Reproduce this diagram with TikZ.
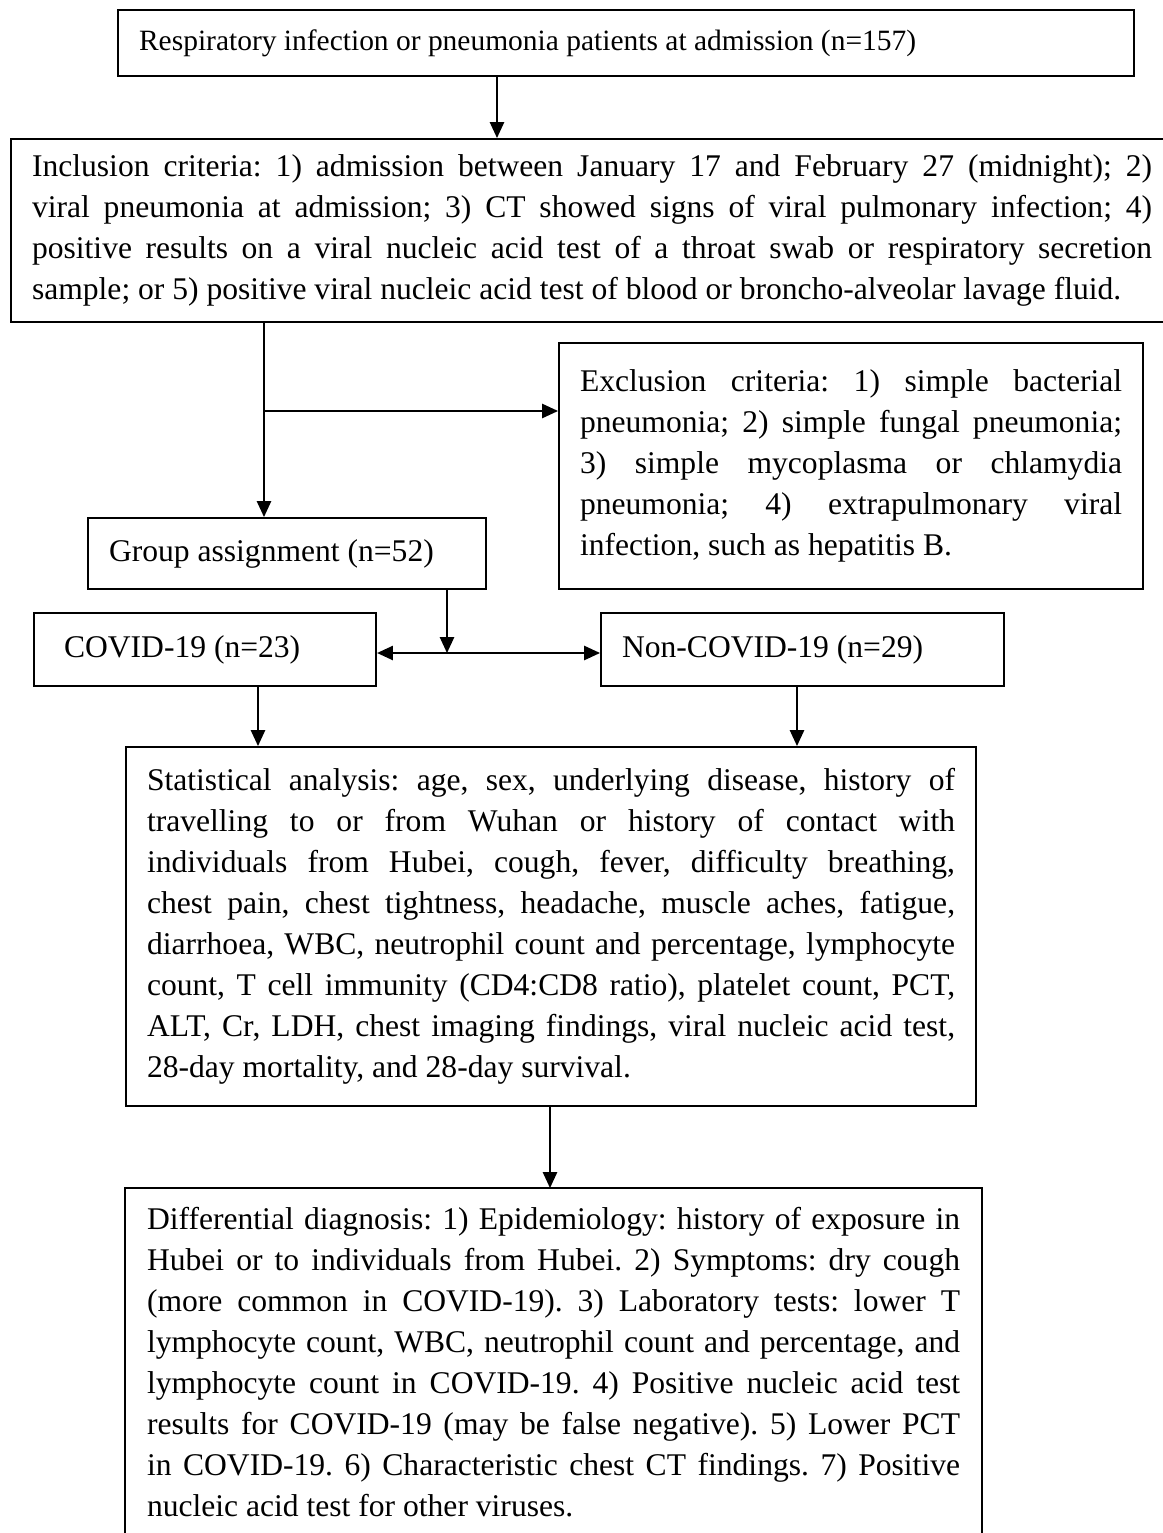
\documentclass[tikz,border=0pt]{standalone}
\usepackage{fontspec}
\setmainfont{Liberation Serif}
\usetikzlibrary{arrows.meta}
\frenchspacing
\newlength{\px}
\setlength{\px}{0.38pt}

\begin{document}
\begin{tikzpicture}[x=0.38pt, y=-0.38pt,
    box/.style={draw, line width=0.8pt, anchor=north west, inner xsep=21\px, inner ysep=0pt,
        align=justify, font=\fontsize{12}{15.6}\selectfont},
    arr/.style={line width=0.6pt, -{Triangle[length=6pt, width=5.4pt]}},
    arrboth/.style={line width=0.6pt, {Triangle[length=6pt, width=5.4pt]}-{Triangle[length=6pt, width=5.4pt]}}]

    \useasboundingbox (0,0) rectangle (1163,1533);

    % Boxes
    \node[box, text width=974\px, minimum height=66\px, font=\fontsize{11.2}{14}\selectfont] (adm) at (117,9)
        {Respiratory infection or pneumonia patients at admission (n=157)};
    \node[box, text width=1120\px, minimum height=183\px] (incl) at (10,138)
        {Inclusion criteria: 1) admission between January 17 and February 27 (midnight); 2)\linebreak
        viral pneumonia at admission; 3) CT showed signs of viral pulmonary infection; 4)\linebreak
        positive results on a viral nucleic acid test of a throat swab or respiratory secretion\linebreak
        sample; or 5) positive viral nucleic acid test of blood or broncho-alveolar lavage fluid.};
    \node[box, text width=542\px, minimum height=246\px] (excl) at (558,342)
        {Exclusion criteria: 1) simple bacterial\linebreak
        pneumonia; 2) simple fungal pneumonia;\linebreak
        3) simple mycoplasma or chlamydia\linebreak
        pneumonia; 4) extrapulmonary viral\linebreak
        infection, such as hepatitis B.};
    \node[box, text width=356\px, minimum height=71\px] (grp) at (87,517)
        {Group assignment (n=52)};
    \node[box, inner xsep=30\px, text width=282\px, minimum height=73\px] (cov) at (33,612)
        {COVID-19 (n=23)};
    \node[box, text width=361\px, minimum height=73\px] (noncov) at (600,612)
        {Non-COVID-19 (n=29)};
    \node[box, text width=808\px, minimum height=359\px] (stats) at (125,746)
        {Statistical analysis: age, sex, underlying disease, history of\linebreak
        travelling to or from Wuhan or history of contact with\linebreak
        individuals from Hubei, cough, fever, difficulty breathing,\linebreak
        chest pain, chest tightness, headache, muscle aches, fatigue,\linebreak
        diarrhoea, WBC, neutrophil count and percentage, lymphocyte\linebreak
        count, T cell immunity (CD4:CD8 ratio), platelet count, PCT,\linebreak
        ALT, Cr, LDH, chest imaging findings, viral nucleic acid test,\linebreak
        28-day mortality, and 28-day survival.};
    \node[box, draw=none, text width=813\px, inner ysep=18\px] (diff) at (125,1188)
        {Differential diagnosis: 1) Epidemiology: history of exposure in\linebreak
        Hubei or to individuals from Hubei. 2) Symptoms: dry cough\linebreak
        (more common in COVID-19). 3) Laboratory tests: lower T\linebreak
        lymphocyte count, WBC, neutrophil count and percentage, and\linebreak
        lymphocyte count in COVID-19. 4) Positive nucleic acid test\linebreak
        results for COVID-19 (may be false negative). 5) Lower PCT\linebreak
        in COVID-19. 6) Characteristic chest CT findings. 7) Positive\linebreak
        nucleic acid test for other viruses.};

    % Open bottom of the last box
    \coordinate (btm) at (0,1545);
    \draw[line width=0.8pt] (diff.north west |- btm) -- (diff.north west)
        -- (diff.north east) -- (diff.north east |- btm);

    % Connecting lines
    \coordinate (c1) at (497,0);
    \coordinate (c2) at (264,411);
    \coordinate (c3) at (447,653);
    \coordinate (c4) at (258,0);
    \coordinate (c5) at (797,0);
    \coordinate (c6) at (550,0);
    \draw[arr] (adm.south -| c1) -- (incl.north -| c1);
    \draw[arr] (incl.south -| c2) -- (grp.north -| c2);
    \draw[arr] (c2) -- (c2 -| excl.west);
    \draw[arr] (grp.south -| c3) -- (c3);
    \draw[arrboth] (c3 -| cov.east) -- (c3 -| noncov.west);
    \draw[arr] (cov.south -| c4) -- (stats.north -| c4);
    \draw[arr] (noncov.south -| c5) -- (stats.north -| c5);
    \draw[arr] (stats.south -| c6) -- (diff.north -| c6);
\end{tikzpicture}
\end{document}
